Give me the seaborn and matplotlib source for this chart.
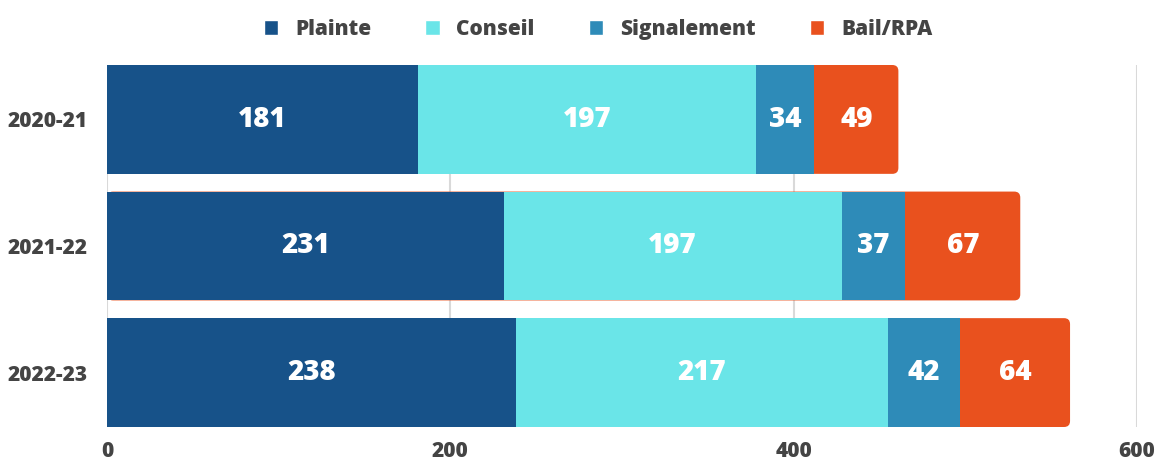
import numpy as np
import pandas as pd
import seaborn as sns
import matplotlib.pyplot as plt
from matplotlib.patches import FancyBboxPatch, Patch

years = ["2020-21", "2021-22", "2022-23"]
series = ["Plainte", "Conseil", "Signalement", "Bail/RPA"]
plainte = [181, 231, 238]
conseil = [197, 197, 217]
signalement = [34, 37, 42]
bail = [49, 67, 64]
colors = ["#175289", "#6ae5e8", "#2e8bb8", "#e9511e"]
x_ticks = [0, 200, 400, 600]

sns.set_theme(style="white")
plt.rcParams['font.family'] = ['Open Sans', 'DejaVu Sans']
plt.rcParams['font.weight'] = 800
TXT = "#444444"

fig = plt.figure(figsize=(11.68, 4.62), dpi=100)
ax = fig.add_axes([107/1168, 1-427/462, 1030/1168, 362/462])

values = np.array([plainte, conseil, signalement, bail])
cum = np.cumsum(values, axis=0)

for k in reversed(range(len(series))):
    n_before = len(ax.patches)
    sns.barplot(x=cum[k], y=years, orient='h', color=colors[k], width=0.86,
                linewidth=0, saturation=1, ax=ax)
    if k == len(series) - 1:
        # round right corners of the outermost segment
        for p in list(ax.patches)[n_before:]:
            x0, y0 = p.get_x(), p.get_y()
            w, h = p.get_width(), p.get_height()
            p.remove()
            ax.add_patch(FancyBboxPatch((x0, y0), w, h,
                                        boxstyle="round,pad=0,rounding_size=3.5",
                                        mutation_aspect=0.01354,
                                        fc=colors[k], lw=0, zorder=1))

for k in range(len(series)):
    for i in range(len(years)):
        v = values[k][i]
        ax.text(cum[k][i] - v/2, i, str(v), ha='center', va='center',
                color='white', fontsize=20, fontweight=800, zorder=10)

ax.set_xlim(0, 600)
ax.set_ylim(2.43, -0.43)
ax.set_xticks(x_ticks)
ax.set_axisbelow(True)
ax.xaxis.grid(True, color='#d9d9d9', lw=1.5)
ax.yaxis.grid(False)
for s in ax.spines.values():
    s.set_visible(False)
ax.tick_params(axis='x', length=0, pad=10, labelsize=15, labelcolor=TXT)
ax.tick_params(axis='y', length=0, pad=14, labelsize=15, labelcolor=TXT)
ax.set_xlabel('')
ax.set_ylabel('')

handles = [Patch(facecolor=c, label=s) for c, s in zip(colors, series)]
fig.legend(handles=handles, loc='upper center', bbox_to_anchor=(0.512, 1.0),
           ncol=4, frameon=False, handlelength=0.7, handleheight=0.7,
           handletextpad=0.8, columnspacing=2.6, fontsize=15, labelcolor=TXT)

fig.savefig("out.png", dpi=100)
